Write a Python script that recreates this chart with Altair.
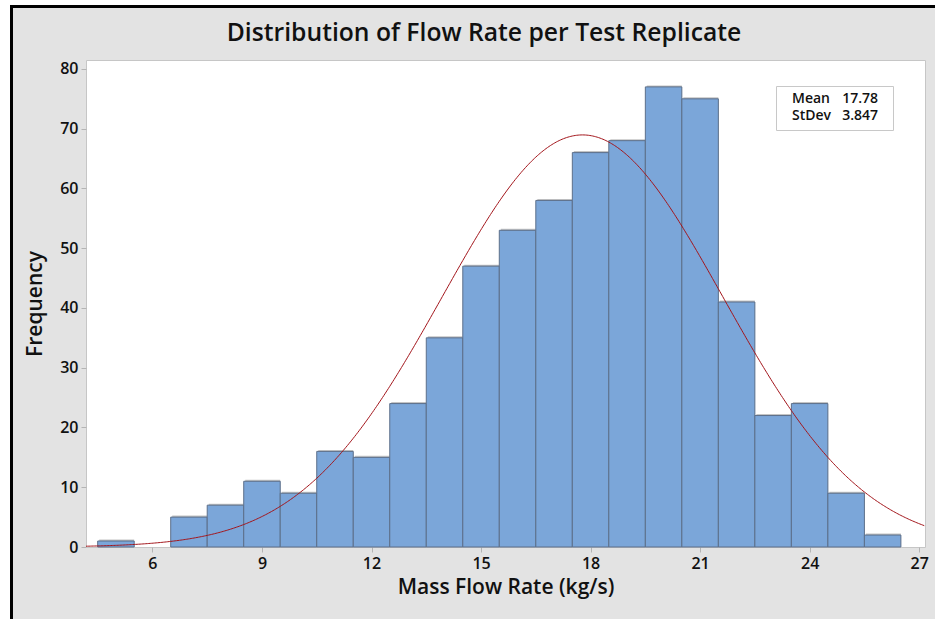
import altair as alt
import pandas as pd

# Histogram of mass flow rate, 1 kg/s bins
bin_lo = [4.5, 5.5, 6.5, 7.5, 8.5, 9.5, 10.5, 11.5, 12.5, 13.5, 14.5,
          15.5, 16.5, 17.5, 18.5, 19.5, 20.5, 21.5, 22.5, 23.5, 24.5, 25.5]
counts = [1, 0, 5, 7, 11, 9, 16, 15, 24, 35, 47,
          53, 58, 66, 68, 77, 75, 41, 22, 24, 9, 2]
BIN_W = 1.0
MEAN = 17.78
STDEV = 3.847
N = sum(counts)

X_DOMAIN = [4.18, 27.16]
Y_DOMAIN = [0, 81.5]
x_ticks = [6, 9, 12, 15, 18, 21, 24, 27]
y_ticks = [0, 10, 20, 30, 40, 50, 60, 70, 80]

TITLE = "Distribution of Flow Rate per Test Replicate"
FONT = "Open Sans"
INK = "#111111"
BAR_FILL = "#7ba6d9"
BAR_EDGE = "#5c6f8a"
CURVE = "#a3151b"

hist = pd.DataFrame({"lo": bin_lo, "count": counts})
hist["hi"] = hist["lo"] + BIN_W
hist = hist[hist["count"] > 0]

xs = alt.Scale(domain=X_DOMAIN, nice=False, zero=False)
ys = alt.Scale(domain=Y_DOMAIN, nice=False)

axis_style = dict(grid=False, domain=False, tickColor="#b4b4b4", tickSize=5,
                  labelPadding=3, labelFont=FONT, labelFontSize=16,
                  labelFontWeight=600, labelColor=INK, titleFont=FONT,
                  titleFontSize=21, titleFontWeight=600, titleColor=INK)
x_axis = alt.Axis(values=x_ticks, title="Mass Flow Rate (kg/s)",
                  titleX=419.5, titleY=40, titleBaseline="middle", **axis_style)
y_axis = alt.Axis(values=y_ticks, title="Frequency",
                  titleX=-51, titleY=243.5, titleAngle=270,
                  titleAlign="center", titleBaseline="middle", **axis_style)

base = alt.Chart(hist)

shadow = base.mark_bar(color="#c4c4c4", xOffset=1.5, yOffset=-1.5, clip=True).encode(
    x=alt.X("lo:Q", scale=xs, axis=x_axis),
    x2="hi:Q",
    y=alt.Y("count:Q", scale=ys, axis=y_axis),
    y2=alt.datum(0),
)

bars = base.mark_bar(fill=BAR_FILL, stroke=BAR_EDGE, strokeWidth=1).encode(
    x=alt.X("lo:Q", scale=xs),
    x2="hi:Q",
    y=alt.Y("count:Q", scale=ys),
    y2=alt.datum(0),
)

# Fitted normal density scaled to counts
curve = alt.Chart(alt.sequence(X_DOMAIN[0], X_DOMAIN[1] + 0.01, 0.04, as_="x")).transform_calculate(
    f=f"{N} * {BIN_W} * exp(-0.5 * pow((datum.x - {MEAN}) / {STDEV}, 2)) / ({STDEV} * sqrt(2 * PI))"
).mark_line(color=CURVE, strokeWidth=1.0, clip=True).encode(
    x=alt.X("x:Q", scale=xs),
    y=alt.Y("f:Q", scale=ys),
)

one = pd.DataFrame({"k": [0]})

# Summary statistics box
box = alt.Chart(one).mark_rect(
    fill="white", stroke="#c8c8c8", strokeWidth=1
).encode(x=alt.value(690.5), x2=alt.value(807.5), y=alt.value(26.5), y2=alt.value(70.5))

stat_rows = [("Mean", f"{MEAN:.2f}", 38.5), ("StDev", f"{STDEV:.3f}", 56)]
stat_text = []
for label, value, ypix in stat_rows:
    stat_text.append(alt.Chart(one).mark_text(
        align="left", baseline="middle", font=FONT, fontSize=14, fontWeight=600,
        color=INK, text=label).encode(x=alt.value(706), y=alt.value(ypix)))
    stat_text.append(alt.Chart(one).mark_text(
        align="right", baseline="middle", font=FONT, fontSize=14, fontWeight=600,
        color=INK, text=value).encode(x=alt.value(792), y=alt.value(ypix)))

# Chart title
title = alt.Chart(one).mark_text(
    align="center", baseline="alphabetic", font=FONT, fontSize=24.7,
    fontWeight=600, color=INK, text=TITLE
).encode(x=alt.value(398), y=alt.value(-19))

# Page frame: white margin strips and black border lines
white_left = alt.Chart(one).mark_rect(color="white").encode(
    x=alt.value(-86), x2=alt.value(-76), y=alt.value(-60), y2=alt.value(559))
white_top = alt.Chart(one).mark_rect(color="white").encode(
    x=alt.value(-86), x2=alt.value(849), y=alt.value(-60), y2=alt.value(-55))
black_left = alt.Chart(one).mark_rect(color="black").encode(
    x=alt.value(-76), x2=alt.value(-73), y=alt.value(-55), y2=alt.value(559))
black_top = alt.Chart(one).mark_rect(color="black").encode(
    x=alt.value(-76), x2=alt.value(849), y=alt.value(-55), y2=alt.value(-52))

chart = alt.layer(
    white_left, white_top, black_left, black_top, title,
    shadow, bars, curve, box, *stat_text,
).properties(
    width=839,
    height=487,
    autosize=alt.AutoSizeParams(type="none"),
    padding={"left": 86, "top": 60, "right": 10, "bottom": 72},
    background="#e3e3e3",
).configure_view(fill="white", stroke="#c6c6c6", strokeWidth=1)

chart.save("out.html", embed_options={"renderer": "svg", "actions": False})
